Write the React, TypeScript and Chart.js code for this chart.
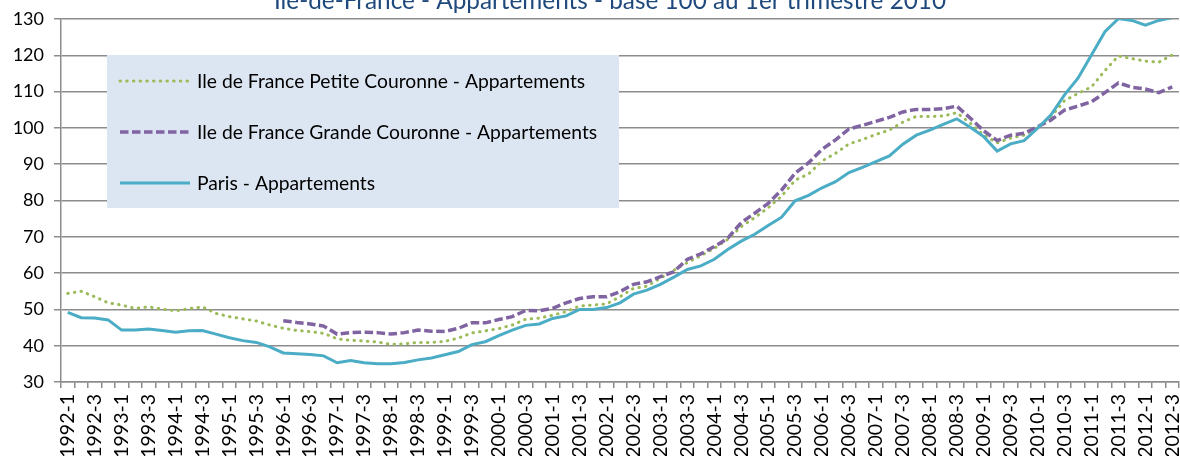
import React, { useEffect, useRef } from 'react';
import { Chart, registerables } from 'chart.js';

Chart.register(...registerables);

const TITLE = 'Ile-de-France - Appartements - base 100 au 1er trimestre 2010';

const quarters = [
  '1992-1', '1992-2', '1992-3', '1992-4',
  '1993-1', '1993-2', '1993-3', '1993-4',
  '1994-1', '1994-2', '1994-3', '1994-4',
  '1995-1', '1995-2', '1995-3', '1995-4',
  '1996-1', '1996-2', '1996-3', '1996-4',
  '1997-1', '1997-2', '1997-3', '1997-4',
  '1998-1', '1998-2', '1998-3', '1998-4',
  '1999-1', '1999-2', '1999-3', '1999-4',
  '2000-1', '2000-2', '2000-3', '2000-4',
  '2001-1', '2001-2', '2001-3', '2001-4',
  '2002-1', '2002-2', '2002-3', '2002-4',
  '2003-1', '2003-2', '2003-3', '2003-4',
  '2004-1', '2004-2', '2004-3', '2004-4',
  '2005-1', '2005-2', '2005-3', '2005-4',
  '2006-1', '2006-2', '2006-3', '2006-4',
  '2007-1', '2007-2', '2007-3', '2007-4',
  '2008-1', '2008-2', '2008-3', '2008-4',
  '2009-1', '2009-2', '2009-3', '2009-4',
  '2010-1', '2010-2', '2010-3', '2010-4',
  '2011-1', '2011-2', '2011-3', '2011-4',
  '2012-1', '2012-2', '2012-3',
];

const petiteCouronne = [
  54.4, 55.0, 53.5, 51.8,
  51.2, 50.3, 50.7, 50.1,
  49.6, 50.2, 50.7, 48.9,
  48.0, 47.4, 46.8, 45.7,
  44.8, 44.2, 43.9, 43.4,
  41.9, 41.5, 41.3, 41.0,
  40.4, 40.5, 40.9, 40.9,
  41.2, 42.1, 43.5, 44.1,
  44.7, 45.7, 47.3, 47.6,
  48.4, 49.4, 50.9, 51.2,
  51.5, 53.5, 55.8, 56.4,
  58.6, 60.8, 62.9, 64.8,
  66.8, 69.3, 72.8, 75.3,
  78.0, 81.2, 85.6, 87.3,
  90.9, 93.0, 95.6, 96.8,
  98.2, 99.4, 101.6, 103.2,
  103.1, 103.3, 104.2, 101.3,
  98.0, 95.9, 97.2, 98.0,
  100.2, 103.1, 107.5, 109.5,
  111.3, 115.8, 119.8, 119.1,
  118.4, 118.1, 120.1,
];

const grandeCouronne = [
  null, null, null, null,
  null, null, null, null,
  null, null, null, null,
  null, null, null, null,
  46.9, 46.4, 46.0, 45.4,
  43.2, 43.6, 43.7, 43.6,
  43.2, 43.6, 44.3, 44.0,
  43.9, 44.8, 46.3, 46.3,
  47.2, 48.0, 49.7, 49.6,
  50.3, 51.8, 53.0, 53.5,
  53.5, 54.9, 56.9, 57.6,
  59.0, 60.4, 63.8, 65.3,
  67.3, 69.6, 73.9, 76.5,
  79.2, 82.9, 87.5, 90.4,
  94.1, 96.7, 99.7, 100.7,
  101.8, 102.9, 104.4, 105.1,
  105.1, 105.3, 106.0, 102.7,
  99.2, 96.5, 98.0, 98.5,
  100.3, 102.2, 104.9, 106.0,
  107.2, 109.7, 112.4, 111.2,
  110.7, 109.7, 111.3,
];

const paris = [
  49.2, 47.7, 47.6, 47.1,
  44.3, 44.3, 44.6, 44.2,
  43.7, 44.1, 44.2, 43.2,
  42.2, 41.4, 40.9, 39.7,
  38.0, 37.8, 37.6, 37.2,
  35.3, 35.9, 35.3, 35.0,
  35.0, 35.4, 36.1, 36.6,
  37.5, 38.4, 40.3, 41.1,
  42.8, 44.3, 45.6, 46.0,
  47.5, 48.2, 50.0, 50.0,
  50.5, 51.8, 54.2, 55.3,
  56.9, 58.9, 61.0, 62.0,
  63.8, 66.5, 68.8, 70.7,
  73.1, 75.4, 79.9, 81.4,
  83.5, 85.2, 87.7, 89.1,
  90.7, 92.3, 95.5, 98.0,
  99.4, 101.0, 102.5, 100.2,
  97.6, 93.6, 95.6, 96.5,
  99.9, 103.6, 109.1, 113.7,
  120.1, 126.5, 130.1, 129.6,
  128.3, 129.6, 130.4,
];

const seriesLabels = [
  'Ile de France Petite Couronne - Appartements',
  'Ile de France Grande Couronne - Appartements',
  'Paris - Appartements',
];

const FONT = 'Lato, "Open Sans", sans-serif';
const GRID = '#8c8c8c';

const titlePlugin = {
  id: 'cutTitle',
  afterDraw(chart: any) {
    const ctx = chart.ctx;
    ctx.save();
    ctx.font = `24.3px ${FONT}`;
    ctx.fillStyle = '#1F497D';
    ctx.textAlign = 'center';
    ctx.textBaseline = 'alphabetic';
    ctx.fillText(TITLE, 610, 8.5);
    ctx.restore();
  },
};

const legendBoxPlugin = {
  id: 'legendBox',
  beforeDatasetsDraw(chart: any) {
    const ctx = chart.ctx;
    ctx.save();
    ctx.fillStyle = '#DCE6F2';
    ctx.fillRect(107, 55, 512, 153);
    chart.data.datasets.forEach((ds: any, i: number) => {
      const y = 81 + i * 51;
      ctx.beginPath();
      ctx.strokeStyle = ds.borderColor;
      ctx.lineWidth = ds.borderWidth;
      ctx.setLineDash(ds.borderDash || []);
      ctx.lineCap = ds.borderCapStyle || 'butt';
      ctx.moveTo(120, y);
      ctx.lineTo(190, y);
      ctx.stroke();
      ctx.setLineDash([]);
      ctx.fillStyle = '#000000';
      ctx.font = `19.3px ${FONT}`;
      ctx.textAlign = 'left';
      ctx.textBaseline = 'middle';
      ctx.fillText(ds.label, 197, y + 1);
    });
    ctx.restore();
  },
};

export default function App() {
  const canvasRef = useRef<HTMLCanvasElement | null>(null);

  useEffect(() => {
    if (!canvasRef.current) return;
    const chart = new Chart(canvasRef.current, {
      type: 'line',
      data: {
        labels: quarters,
        datasets: [
          {
            label: seriesLabels[0],
            data: petiteCouronne,
            borderColor: '#9BBB59',
            borderWidth: 3,
            borderDash: [0.5, 6.2],
            borderCapStyle: 'round',
            pointRadius: 0,
            tension: 0,
            fill: false,
            order: 2,
          },
          {
            label: seriesLabels[1],
            data: grandeCouronne,
            borderColor: '#8064A2',
            borderWidth: 3.5,
            borderDash: [8.5, 3.5],
            borderCapStyle: 'butt',
            pointRadius: 0,
            tension: 0,
            fill: false,
            order: 1,
          },
          {
            label: seriesLabels[2],
            data: paris,
            borderColor: '#4BACC6',
            borderWidth: 3,
            pointRadius: 0,
            tension: 0,
            fill: false,
            order: 0,
          },
        ],
      },
      options: {
        animation: false,
        responsive: true,
        maintainAspectRatio: false,
        layout: { padding: { top: 19, right: 1, left: 0, bottom: 0 } },
        plugins: {
          legend: { display: false },
          title: { display: false },
          tooltip: { enabled: false },
        },
        scales: {
          x: {
            type: 'category',
            offset: true,
            grid: {
              display: true,
              drawOnChartArea: false,
              drawTicks: true,
              tickLength: 6,
              offset: true,
              color: GRID,
              lineWidth: 1.5,
            },
            border: { display: true, color: GRID, width: 1.5 },
            ticks: {
              autoSkip: false,
              minRotation: 90,
              maxRotation: 90,
              padding: 6,
              color: '#000000',
              font: { family: FONT, size: 19.5 },
              callback: (_v: any, i: number) => (i % 2 === 0 ? quarters[i] : ''),
            },
            afterFit: (s: any) => {
              s.height = 74;
              s.paddingLeft = 0;
              s.paddingRight = 0;
            },
          },
          y: {
            min: 30,
            max: 130,
            ticks: {
              stepSize: 10,
              padding: 10,
              color: '#000000',
              font: { family: FONT, size: 18 },
            },
            grid: {
              color: GRID,
              lineWidth: 1.5,
              tickLength: 7,
              drawTicks: true,
            },
            border: { display: true, color: GRID, width: 1.5 },
            afterFit: (s: any) => {
              s.width = 61;
              s.paddingTop = 0;
              s.paddingBottom = 0;
            },
          },
        },
      },
      plugins: [legendBoxPlugin, titlePlugin],
    } as any);
    return () => chart.destroy();
  }, []);

  return (
    <div style={{ position: 'fixed', left: 0, top: 0, width: 1180, height: 456, background: '#ffffff' }}>
      <canvas ref={canvasRef} />
    </div>
  );
}
